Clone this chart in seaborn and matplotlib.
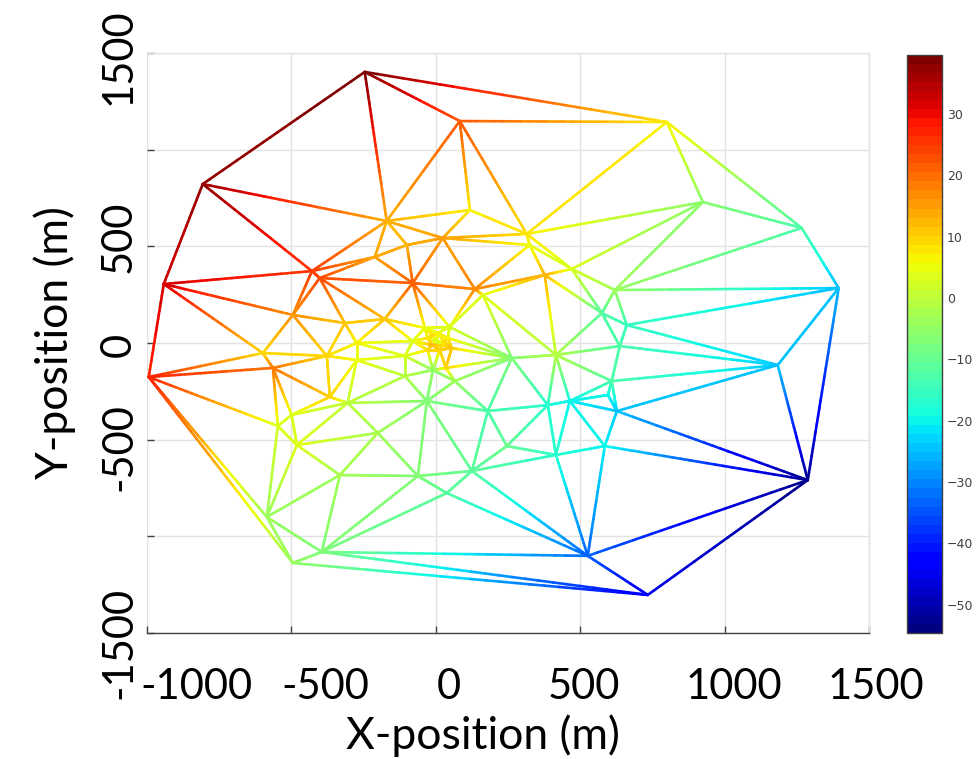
import numpy as np
import matplotlib
matplotlib.use("Agg")
import matplotlib.pyplot as plt
import matplotlib.tri as mtri
from matplotlib.collections import LineCollection
from matplotlib.colors import Normalize
from matplotlib.cm import ScalarMappable
import seaborn as sns

# Sensor node positions (m) and the measured value at each node
node_x = [-246, -807, -942, -994, 83, 800, 925, 1267, 1395, 1184,
          1288, 734, 526, -395, -495, -585, -170, 118, 24, 135,
          -80, -211, -100, -429, -402, -495, -315, -177, -599, -377,
          -274, -274, -564, -367, -305, -499, -547, -481, -201, -332,
          -107, -10, 66, -31, -62, 125, 180, 38, -38, 48,
          163, 315, 325, 377, 471, 620, 575, 661, 637, 416,
          263, 609, 596, 627, 464, 388, 246, 585, 416, 35,
          -107, -28, 7, 42, 55, 14, -28, 3, -80,
          -14, 24, 28, -10]
node_y = [1402, 822, 305, -176, 1148, 1143, 729, 595, 284, -114,
          -709, -1303, -1101, -1081, -1138, -900, 631, 688, 543, 279,
          310, 445, 507, 372, 336, 145, 103, 124, -52, -67,
          0, -88, -129, -279, -310, -372, -429, -528, -465, -683,
          -171, -140, -197, -300, -688, -662, -352, -776, 78, 83,
          248, 564, 507, 352, 383, 274, 155, 93, -16, -62,
          -78, -197, -269, -352, -300, -321, -533, -533, -579, -129,
          -67, 26, 52, 26, -26, -36, -36, 5, 10,
          -10, -12, 10, 40]
node_val = [39, 37, 32, 27, 22, 7, -6, -13, -25, -24,
            -53, -45, -33, -7, -4, -4, 13, 7, 15, 17,
            21, 14, 13, 25, 23, 16, 11, 11, 9, 9,
            6, 5, 19, 10, 0, 4, 3, 4, -3, -3,
            -1, -5, -4, -7, -7, -11, -13, -12, 5, 3,
            4, 8, 5, 13, 3, -4, -12, -15, -13, -1,
            -7, -13, -20, -24, -20, -17, -10, -20, -17, 10,
            3, 8, 6, 7, 11, 10, 9, 2, 4,
            12, 8, 9, 10]

x_ticks = [-1000, -500, 0, 500, 1000, 1500]
y_ticks = [-1500, -1000, -500, 0, 500, 1000, 1500]
x_tick_text = ["-1000", "-500", "0", "500", "1000", "1500"]
y_tick_text = ["1500", "500", "0", "-500", "-1500"]
cbar_ticks = [-50, -40, -30, -20, -10, 0, 10, 20, 30]
v_min, v_max = -54.6, 39.6

sns.set_style("whitegrid")
plt.rcParams["font.family"] = ["Lato", "DejaVu Sans"]

W, H = 979, 759
fig = plt.figure(figsize=(W / 100, H / 100), dpi=100)


def fx(px):
    return px / W


def fy(py):
    return 1 - py / H


ax = fig.add_axes([fx(147), fy(633), (869 - 147) / W, (633 - 53) / H])

cmap = matplotlib.colormaps["jet"].resampled(64)
norm = Normalize(v_min, v_max)

# Delaunay mesh over the nodes; each edge shaded by interpolating node values
xs = np.asarray(node_x, float)
ys = np.asarray(node_y, float)
vs = np.asarray(node_val, float)
tri = mtri.Triangulation(xs, ys)
t = np.linspace(0, 1, 25)
segs, seg_vals = [], []
for i, j in tri.edges:
    ex = xs[i] + (xs[j] - xs[i]) * t
    ey = ys[i] + (ys[j] - ys[i]) * t
    ev = vs[i] + (vs[j] - vs[i]) * t
    pts = np.column_stack([ex, ey])
    segs.extend(np.stack([pts[:-1], pts[1:]], axis=1))
    seg_vals.extend((ev[:-1] + ev[1:]) / 2)
lc = LineCollection(segs, cmap=cmap, norm=norm, linewidths=1.9,
                    capstyle="round", zorder=3)
lc.set_array(np.asarray(seg_vals))
ax.add_collection(lc)

ax.set_xlim(-1000, 1500)
ax.set_ylim(-1500, 1500)
ax.set_xticks(x_ticks)
ax.set_yticks(y_ticks)
ax.grid(True, color="#e2e2e2", linewidth=1.0)
ax.set_axisbelow(True)
ax.tick_params(direction="in", length=5, width=1, color="#404040",
               labelleft=False, labelbottom=False,
               left=True, bottom=True, top=False, right=False)
ax.spines["left"].set_visible(False)
ax.spines["bottom"].set_color("#404040")
ax.spines["bottom"].set_linewidth(1.0)
for s in ("top", "right"):
    ax.spines[s].set_color("#e2e2e2")
    ax.spines[s].set_linewidth(1.0)

# Large tick labels and axis titles
tick_fs = 30
label_fs = 32
x_label_px = [196, 325, 449, 584, 734, 876]
for txt, px in zip(x_tick_text, x_label_px):
    fig.text(fx(px), fy(699), txt, fontsize=tick_fs, ha="center",
             va="baseline", color="black")
y_label_py = [57, 237, 345, 447, 643]
for txt, py in zip(y_tick_text, y_label_py):
    fig.text(fx(131), fy(py), txt, fontsize=tick_fs, ha="center",
             va="baseline", rotation=90, rotation_mode="anchor",
             color="black")
fig.text(fx(483), fy(749), "X-position (m)", fontsize=label_fs,
         ha="center", va="baseline", color="black")
fig.text(fx(55), fy(343), "Y-position (m)", fontsize=label_fs,
         ha="center", va="center", rotation=90, color="black")

# Colour bar
cax = fig.add_axes([fx(907), fy(633), 35 / W, (633 - 55) / H])
sm = ScalarMappable(norm=norm, cmap=cmap)
cb = fig.colorbar(sm, cax=cax, ticks=cbar_ticks)
cb.outline.set_edgecolor("#404040")
cb.outline.set_linewidth(1.0)
cax.tick_params(direction="in", length=4, width=0.8, color="#404040",
                labelsize=9, labelcolor="#404040", right=True)
for lab in cax.get_yticklabels():
    lab.set_family(["DejaVu Sans"])

fig.savefig("out.png", dpi=100)
